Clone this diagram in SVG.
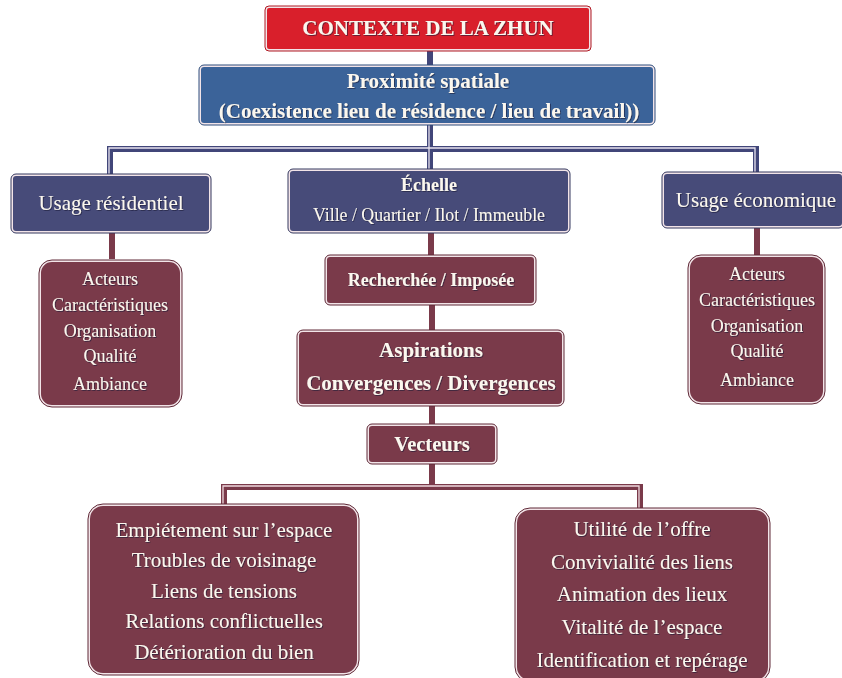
<svg xmlns="http://www.w3.org/2000/svg" width="842" height="678" viewBox="0 0 842 678">
  <defs>
    <filter id="txtShadow" x="-10%" y="-30%" width="120%" height="160%">
      <feDropShadow dx="0.8" dy="0.8" stdDeviation="0.4" flood-color="#1b1b36" flood-opacity="0.75"/>
    </filter>
  </defs>
  <style>
    text { font-family: "Liberation Serif", "Times New Roman", serif; fill: #fbf7ef; text-anchor: middle; filter: url(#txtShadow); }
    .b { font-weight: bold; }
    .box { stroke: #f2e4e8; stroke-width: 2; }
    .edge { stroke-width: 1; fill: none; }
    .red { fill: #d91f2b; }
    .blue { fill: #3b6399; }
    .navy { fill: #474b79; }
    .maroon { fill: #7a3a4a; }
    .red-e { stroke: #b01822; }
    .blue-e { stroke: #2d4d7c; }
    .navy-e { stroke: #34385f; }
    .maroon-e { stroke: #5e2836; }
    .c-navy { stroke: #414679; stroke-width: 6; fill: none; }
    .c-maroon { stroke: #7a3a4a; stroke-width: 6; fill: none; }
    .c-inner { stroke: #e9e4ef; stroke-width: 1.3; fill: none; }
    .c-inner-m { stroke: #efd9de; stroke-width: 1.3; fill: none; }
  </style>

  <!-- connectors -->
  <g id="connectors">
    <!-- title to proximity -->
    <path class="c-navy" d="M430 50 V67" stroke-width="4"/>
    <!-- proximity to the three first-level boxes -->
    <path class="c-navy" d="M110 176 V149 H756 V174"/>
    <path class="c-navy" d="M430 124 V171"/>
    <path class="c-inner" d="M109 176 V148 H755 V174"/>
    <path class="c-inner" d="M429 124 V171"/>
    <!-- first level to detail boxes -->
    <path class="c-maroon" d="M112 232 V259" stroke-width="5"/>
    <path class="c-maroon" d="M757 227 V257" stroke-width="5"/>
    <path class="c-maroon" d="M431 232 V257" stroke-width="5"/>
    <path class="c-maroon" d="M432 304 V332" stroke-width="5"/>
    <path class="c-maroon" d="M432 405 V426" stroke-width="5"/>
    <!-- vecteurs to the two outcome boxes -->
    <path class="c-maroon" d="M432 463 V487"/>
    <path class="c-maroon" d="M224 506 V487 H640 V510"/>
    <path class="c-inner-m" d="M223 506 V486 H639 V510"/>
  </g>

  <g id="contexte">
    <rect x="266" y="7" width="324" height="43" rx="3" class="box red"/>
    <rect x="265" y="6" width="326" height="45" rx="4" class="edge red-e"/>
    <text x="428" y="35" class="b" font-size="21">CONTEXTE DE LA ZHUN</text>
  </g>

  <g id="proximite">
    <rect x="200" y="66" width="454" height="58" rx="4" class="box blue"/>
    <rect x="199" y="65" width="456" height="60" rx="5" class="edge blue-e"/>
    <text x="428" y="88" class="b" font-size="21">Proximité spatiale</text>
    <text x="429" y="118" class="b" font-size="21">(Coexistence lieu de résidence / lieu de travail))</text>
  </g>

  <g id="usage-residentiel">
    <rect x="12" y="175" width="198" height="57" rx="4" class="box navy"/>
    <rect x="11" y="174" width="200" height="59" rx="5" class="edge navy-e"/>
    <text x="111" y="210" font-size="21">Usage résidentiel</text>
  </g>

  <g id="echelle">
    <rect x="289" y="170" width="280" height="62" rx="4" class="box navy"/>
    <rect x="288" y="169" width="282" height="64" rx="5" class="edge navy-e"/>
    <text x="429" y="191" class="b" font-size="18">Échelle</text>
    <text x="429" y="221" font-size="17.8">Ville / Quartier / Ilot / Immeuble</text>
  </g>

  <g id="usage-economique">
    <rect x="663" y="173" width="180" height="54" rx="4" class="box navy"/>
    <rect x="662" y="172" width="182" height="56" rx="5" class="edge navy-e"/>
    <text x="756" y="207" font-size="21">Usage économique</text>
  </g>

  <g id="details-residentiel">
    <rect x="40" y="261" width="141" height="145" rx="12" class="box maroon"/>
    <rect x="39" y="260" width="143" height="147" rx="13" class="edge maroon-e"/>
    <text x="110" y="285" font-size="18">Acteurs</text>
    <text x="110" y="311" font-size="18">Caractéristiques</text>
    <text x="110" y="337" font-size="18">Organisation</text>
    <text x="110" y="362" font-size="18">Qualité</text>
    <text x="110" y="390" font-size="18">Ambiance</text>
  </g>

  <g id="details-economique">
    <rect x="689" y="256" width="135" height="147" rx="12" class="box maroon"/>
    <rect x="688" y="255" width="137" height="149" rx="13" class="edge maroon-e"/>
    <text x="757" y="280" font-size="18">Acteurs</text>
    <text x="757" y="306" font-size="18">Caractéristiques</text>
    <text x="757" y="332" font-size="18">Organisation</text>
    <text x="757" y="357" font-size="18">Qualité</text>
    <text x="757" y="386" font-size="18">Ambiance</text>
  </g>

  <g id="recherchee">
    <rect x="326" y="256" width="209" height="48" rx="4" class="box maroon"/>
    <rect x="325" y="255" width="211" height="50" rx="5" class="edge maroon-e"/>
    <text x="431" y="286" class="b" font-size="18">Recherchée / Imposée</text>
  </g>

  <g id="aspirations">
    <rect x="298" y="331" width="265" height="74" rx="5" class="box maroon"/>
    <rect x="297" y="330" width="267" height="76" rx="6" class="edge maroon-e"/>
    <text x="431" y="357" class="b" font-size="21">Aspirations</text>
    <text x="431" y="390" class="b" font-size="21">Convergences / Divergences</text>
  </g>

  <g id="vecteurs">
    <rect x="368" y="425" width="128" height="38" rx="4" class="box maroon"/>
    <rect x="367" y="424" width="130" height="40" rx="5" class="edge maroon-e"/>
    <text x="432" y="451" class="b" font-size="20.5">Vecteurs</text>
  </g>

  <g id="effets-negatifs">
    <rect x="89" y="505" width="269" height="169" rx="14" class="box maroon"/>
    <rect x="88" y="504" width="271" height="171" rx="15" class="edge maroon-e"/>
    <text x="224" y="537" font-size="21">Empiétement sur l’espace</text>
    <text x="224" y="567" font-size="21">Troubles de voisinage</text>
    <text x="224" y="598" font-size="21">Liens de tensions</text>
    <text x="224" y="628" font-size="21">Relations conflictuelles</text>
    <text x="224" y="659" font-size="21">Détérioration du bien</text>
  </g>

  <g id="effets-positifs">
    <rect x="516" y="509" width="253" height="172" rx="14" class="box maroon"/>
    <rect x="515" y="508" width="255" height="174" rx="15" class="edge maroon-e"/>
    <text x="642" y="536" font-size="21">Utilité de l’offre</text>
    <text x="642" y="569" font-size="21">Convivialité des liens</text>
    <text x="642" y="601" font-size="21">Animation des lieux</text>
    <text x="642" y="634" font-size="21">Vitalité de l’espace</text>
    <text x="642" y="667" font-size="21">Identification et repérage</text>
  </g>
</svg>
